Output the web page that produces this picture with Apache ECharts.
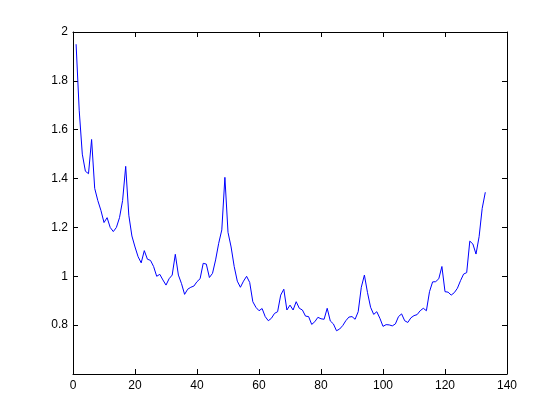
<!DOCTYPE html>
<html>
<head>
<meta charset="utf-8">
<script src="https://cdn.jsdelivr.net/npm/echarts@6/dist/echarts.min.js"></script>
<style>
html,body{margin:0;padding:0;background:#fff;}
#chart{width:560px;height:420px;}
</style>
</head>
<body>
<div id="chart"></div>
<script>
// x positions 1..133
const xValues = [];
for (let i = 1; i <= 133; i++) xValues.push(i);

const yValues = [
  1.95, 1.68, 1.50, 1.43, 1.42, 1.56, 1.36, 1.31, 1.27, 1.22,
  1.24, 1.20, 1.183, 1.20, 1.24, 1.31, 1.45, 1.25, 1.165, 1.12,
  1.08, 1.055, 1.105, 1.07, 1.065, 1.04, 1.00, 1.008, 0.985, 0.964,
  0.99, 1.005, 1.09, 1.005, 0.97, 0.926, 0.947, 0.955, 0.96, 0.978,
  0.99, 1.053, 1.05, 0.995, 1.012, 1.067, 1.135, 1.19, 1.405, 1.18,
  1.12, 1.04, 0.98, 0.955, 0.98, 1.00, 0.975, 0.896, 0.873, 0.859,
  0.868, 0.835, 0.818, 0.828, 0.848, 0.855, 0.923, 0.947, 0.862, 0.882,
  0.862, 0.896, 0.869, 0.862, 0.837, 0.835, 0.803, 0.814, 0.832, 0.826,
  0.824, 0.869, 0.817, 0.805, 0.777, 0.784, 0.798, 0.818, 0.833, 0.835,
  0.824, 0.855, 0.955, 1.005, 0.933, 0.873, 0.844, 0.855, 0.828, 0.795,
  0.802, 0.801, 0.797, 0.805, 0.835, 0.846, 0.818, 0.811, 0.83, 0.839,
  0.843, 0.859, 0.869, 0.859, 0.937, 0.977, 0.978, 0.99, 1.04, 0.937,
  0.935, 0.923, 0.933, 0.951, 0.982, 1.009, 1.015, 1.144, 1.132, 1.091,
  1.162, 1.278, 1.344
];

const xTickLabels = ['0', '20', '40', '60', '80', '100', '120', '140'];
const yTickLabels = ['', '0.8', '1', '1.2', '1.4', '1.6', '1.8', '2'];

const seriesData = xValues.map((x, i) => [x, yValues[i]]);

const fontBase = { fontFamily: 'Liberation Sans, Arial, sans-serif', fontSize: 12, color: '#000' };
const lineStyle = { color: '#000', width: 1 };

const chart = echarts.init(document.getElementById('chart'), null, { renderer: 'canvas' });
chart.setOption({
  animation: false,
  backgroundColor: '#fff',
  grid: { left: 73, right: 53, top: 32, bottom: 46, containLabel: false },
  xAxis: [
    {
      type: 'value', min: 0, max: 140, interval: 20, position: 'bottom',
      axisLine: { show: true, onZero: false, lineStyle: lineStyle },
      axisTick: { show: true, inside: true, length: 5, lineStyle: lineStyle },
      axisLabel: Object.assign({ margin: 6, formatter: (v) => xTickLabels[Math.round(v / 20)] }, fontBase),
      splitLine: { show: false }
    },
    {
      type: 'value', min: 0, max: 140, interval: 20, position: 'top',
      axisLine: { show: true, onZero: false, lineStyle: lineStyle },
      axisTick: { show: true, inside: true, length: 5, lineStyle: lineStyle },
      axisLabel: { show: false },
      splitLine: { show: false }
    }
  ],
  yAxis: [
    {
      type: 'value', min: 0.6, max: 2, interval: 0.2, position: 'left',
      axisLine: { show: true, onZero: false, lineStyle: lineStyle },
      axisTick: { show: true, inside: true, length: 5, lineStyle: lineStyle },
      axisLabel: Object.assign({ margin: 5, formatter: (v) => yTickLabels[Math.round((v - 0.6) / 0.2)] }, fontBase),
      splitLine: { show: false }
    },
    {
      type: 'value', min: 0.6, max: 2, interval: 0.2, position: 'right',
      axisLine: { show: true, onZero: false, lineStyle: lineStyle },
      axisTick: { show: true, inside: true, length: 5, lineStyle: lineStyle },
      axisLabel: { show: false },
      splitLine: { show: false }
    }
  ],
  series: [
    {
      type: 'line',
      xAxisIndex: 0, yAxisIndex: 0,
      data: seriesData,
      showSymbol: false,
      symbol: 'none',
      lineStyle: { color: '#0000ff', width: 1 },
      itemStyle: { color: '#0000ff' }
    }
  ]
});
</script>
</body>
</html>
